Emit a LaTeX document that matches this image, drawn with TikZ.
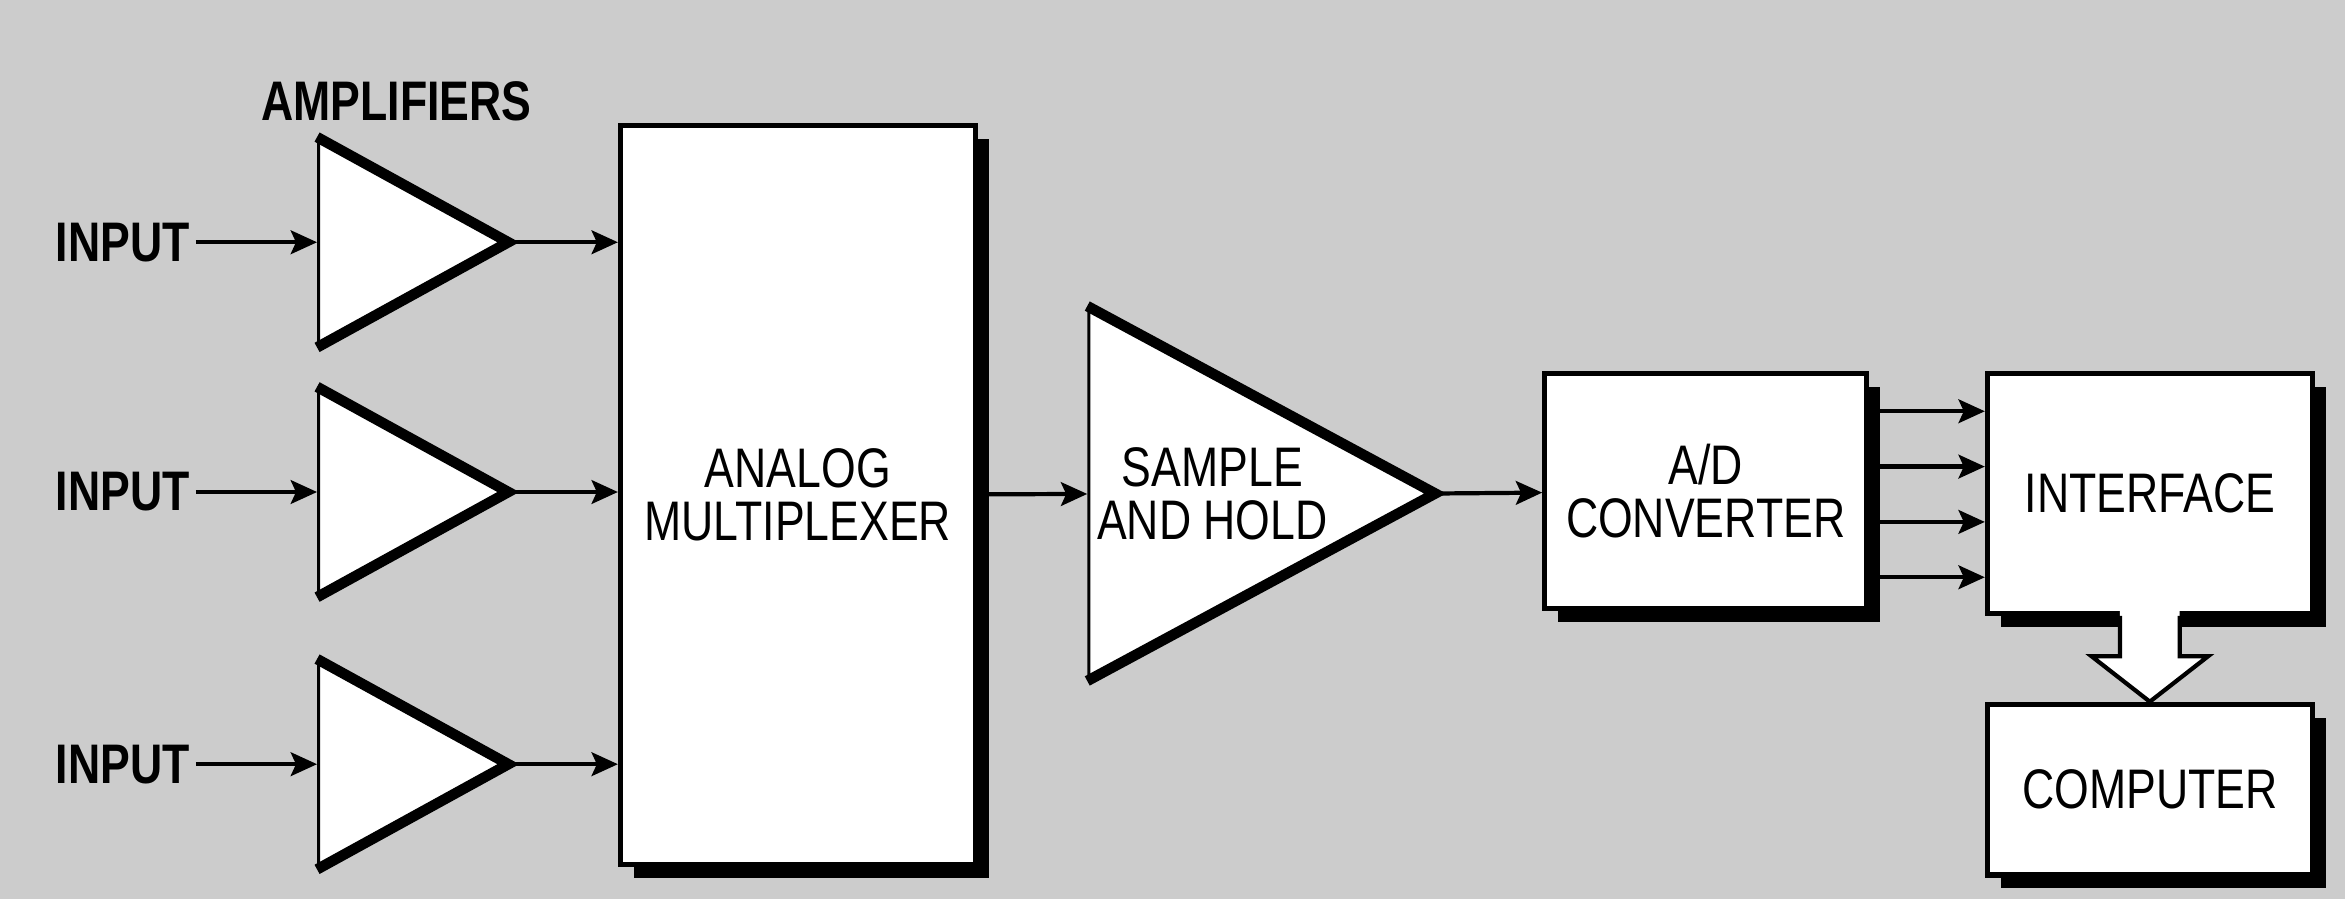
\documentclass[tikz,border=0pt]{standalone}
\usepackage{fontspec}
\setmainfont{Liberation Sans}[FakeStretch=0.8]
\usetikzlibrary{positioning,shapes.geometric,shadows,arrows.meta,calc}

\definecolor{screen}{gray}{0.8}

\tikzset{
  blk/.style={draw, fill=white, line width=1pt, inner sep=0pt, align=center,
    font=\fontsize{10.6}{10.1}\selectfont,
    general shadow={fill=black, shadow xshift=0.09cm, shadow yshift=-0.09cm}},
  amp/.style={isosceles triangle, isosceles triangle stretches, draw, fill=white,
    line width=0.6pt, inner sep=0pt, anchor=west,
    minimum width=1.37cm, minimum height=1.24cm},
  lbl/.style={font=\bfseries\fontsize{10.6}{10.1}\selectfont, inner sep=1pt},
  sig/.style={-{Stealth[length=5pt,width=4.5pt,inset=1pt]}, line width=0.8pt},
}

\begin{document}
\begin{tikzpicture}[x=0.01cm, y=-0.01cm]
\fill[screen] (0,0) rectangle (1568,601);
\useasboundingbox (0,0) rectangle (1568,601);

% amplifiers
\node[lbl] (amps) at (265,68) {AMPLIFIERS};
\node[amp] (a1) at (212,162) {};
\node[amp] (a2) at (212,329) {};
\node[amp] (a3) at (212,511) {};
\node[lbl, anchor=east] (in1) at (131,162) {INPUT};
\node[lbl, anchor=east] (in2) at (131,329) {INPUT};
\node[lbl, anchor=east] (in3) at (131,511) {INPUT};

% blocks
\node[blk, minimum width=2.37cm, minimum height=4.94cm] (mux) at (533.5,331) {ANALOG\\MULTIPLEXER};
\node[amp, minimum width=2.47cm, minimum height=2.25cm,
  font=\fontsize{10.6}{10.1}\selectfont, align=center] (sh) at (727,330) {SAMPLE\\AND HOLD};
\node[blk, minimum width=2.15cm, minimum height=1.57cm] (ad) at (1140.5,328.5) {A/D\\CONVERTER};
\node[blk, minimum width=2.17cm, minimum height=1.6cm] (iface) at (1437.5,330) {INTERFACE};
\node[blk, minimum width=2.17cm, minimum height=1.14cm] (comp) at (1437.5,528) {COMPUTER};

\foreach \t in {a1,a2,a3,sh}
  \draw[line width=2pt, line join=miter] (\t.left corner) -- (\t.apex) -- (\t.right corner);

\path[sig] (in1) edge (a1)
           (in2) edge (a2)
           (in3) edge (a3)
           (a1.apex) edge (a1.apex -| mux.west)
           (a2.apex) edge (a2.apex -| mux.west)
           (a3.apex) edge (a3.apex -| mux.west)
           (mux) edge (sh)
           (sh.apex) edge (ad);

\foreach \dy in {-53.5,-16.5,20.5,57.5}
  \draw[sig] ($(ad.east)+(0,\dy)$) coordinate (s) -- (s -| iface.west);

% bus to the computer
\fill[white] ($(iface.south)+(-20,-6)$) -- ($(iface.south)+(-20,27)$)
  -- ($(iface.south)+(-39,27)$) -- (comp.north) -- ($(iface.south)+(39,27)$)
  -- ($(iface.south)+(20,27)$) -- ($(iface.south)+(20,-6)$) -- cycle;
\draw[line width=0.8pt] ($(iface.south)+(-20,0)$) -- ($(iface.south)+(-20,27)$)
  -- ($(iface.south)+(-39,27)$) -- (comp.north) -- ($(iface.south)+(39,27)$)
  -- ($(iface.south)+(20,27)$) -- ($(iface.south)+(20,0)$);
\end{tikzpicture}
\end{document}
